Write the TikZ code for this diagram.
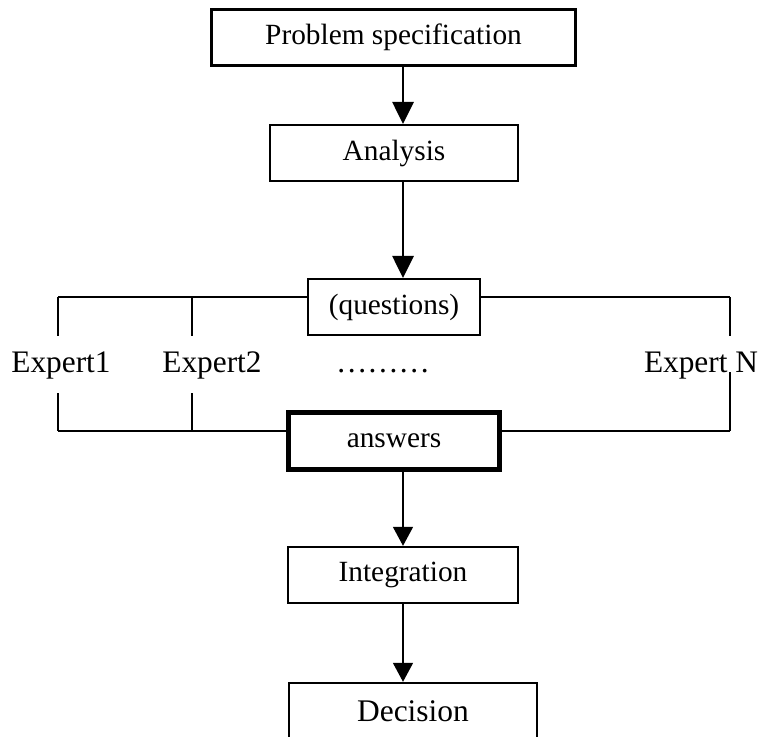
\documentclass[tikz,border=0pt]{standalone}
\usepackage{fontspec}
\setmainfont{Liberation Serif}
\usetikzlibrary{arrows.meta}
\begin{document}
\begin{tikzpicture}[x=0.75pt,y=-0.75pt,
  box/.style={draw,inner sep=0pt,minimum height=42pt,font=\fontsize{22}{24}\selectfont},
  lbl/.style={inner sep=0pt,anchor=base,font=\fontsize{23.5}{26}\selectfont},
  bigarrow/.style={line width=2.2pt,-{Triangle[length=16.5pt,width=15.75pt]}},
  smallarrow/.style={line width=1.3pt,-{Triangle[length=14.25pt,width=15pt]}},
  hline/.style={line width=1.6pt},
  vline/.style={line width=1.3pt}]
\clip (0,0) rectangle (763,736);
\fill[white] (0,0) rectangle (763,736);

\node[box,line width=2.4pt,minimum width=273pt] (ps) at (393.5,37.5) {Problem specification};
\node[box,line width=1.6pt,minimum width=186pt] (an) at (394,153) {Analysis};
\node[box,line width=1.6pt,minimum width=129pt] (q) at (394,307) {(questions)};
\node[box,line width=3.75pt,minimum width=158.25pt,minimum height=42.75pt] (ans) at (394,441) {answers};
\node[box,line width=1.4pt,minimum width=172.9pt,minimum height=42.4pt] (int) at (403,575) {Integration};
\node[box,line width=1.4pt,minimum width=186.4pt,minimum height=42.4pt,font=\fontsize{23.6}{26}\selectfont] (dec) at (413,711) {Decision};

\node[lbl] (e1) at (61,372) {Expert1};
\node[lbl] (e2) at (212,372) {Expert2};
\node[lbl] (dots) at (383,372) {………};
\node[lbl] (en) at (701,372) {Expert N};

\coordinate (ax) at (403,0);
\coordinate (tl) at (58,297);
\coordinate (tm) at (192,297);
\coordinate (tr) at (730,297);
\coordinate (tl2) at (58,336);
\coordinate (tm2) at (192,336);
\coordinate (tr2) at (730,336);
\coordinate (bl) at (58,431);
\coordinate (bm) at (192,431);
\coordinate (br) at (730,431);
\coordinate (bl2) at (58,393);
\coordinate (bm2) at (192,393);
\coordinate (br2) at (730,372);

\draw[bigarrow] (ps.south -| ax) -- (an.north -| ax);
\draw[bigarrow] (an.south -| ax) -- (q.north -| ax);
\draw[smallarrow] (ans.south -| ax) -- (int.north -| ax);
\draw[smallarrow] (int.south -| ax) -- (dec.north -| ax);

\draw[hline] (q.west |- tl) -- (tl);
\draw[hline] (q.east |- tr) -- (tr);
\draw[vline] (tl) -- (tl2);
\draw[vline] (tm) -- (tm2);
\draw[vline] (tr) -- (tr2);

\draw[hline] (ans.west |- bl) -- (bl);
\draw[hline] (ans.east |- br) -- (br);
\draw[vline] (bl2) -- (bl);
\draw[vline] (bm2) -- (bm);
\draw[vline] (br2) -- (br);
\end{tikzpicture}
\end{document}
